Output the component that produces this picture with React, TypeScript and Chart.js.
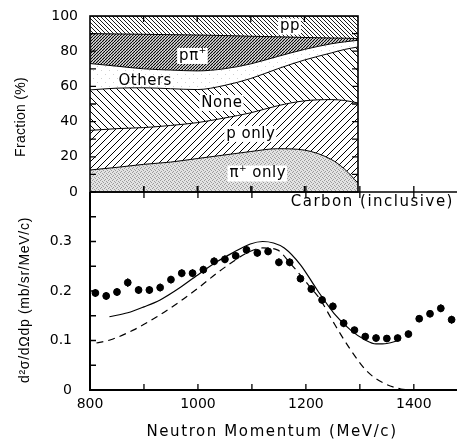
import React, { useEffect, useRef } from 'react';
import { Chart, registerables } from 'chart.js';
Chart.register(...registerables);

const FONT = '"DejaVu Sans", "Liberation Sans", sans-serif';
const VFONT = '"Liberation Sans", Arial, sans-serif';

// ---------- Top panel: fractions (%) vs neutron momentum ----------
const fracMomentum = [800, 850, 900, 950, 1000, 1050, 1100, 1150, 1200, 1250, 1275, 1300];
const piOnlyFrac = [12.5, 14, 15.7, 17, 19, 21, 23, 24.6, 23.8, 18.5, 13, 5];
const pOnlyFrac = [22.5, 22, 20.9, 20.8, 20.4, 21, 22, 24.4, 28, 34, 39, 45.6];
const noneFrac = [23, 23, 22.6, 20.9, 18.8, 18.5, 19.5, 21, 23.2, 26.5, 29, 31.8];
const othersFrac = [15, 12.5, 10.8, 10.6, 10.6, 9.5, 8.3, 7, 6, 5.2, 4.3, 3.8];
const pPiFrac = [17, 18.3, 19.6, 20.1, 20.4, 18.9, 15.7, 11.2, 6.8, 3.3, 2.1, 1.0];
const ppFrac = [10, 10.2, 10.4, 10.6, 10.8, 11.1, 11.5, 11.8, 12.2, 12.5, 12.6, 12.8];
const fracTicks = [0, 20, 40, 60, 80, 100];

// ---------- Bottom panel: cross section ----------
const dataMomentum = [810, 830, 850, 870, 890, 910, 930, 950, 970, 990, 1010, 1030, 1050, 1070, 1090, 1110, 1130, 1150,
  1170, 1190, 1210, 1230, 1250, 1270, 1290, 1310, 1330, 1350, 1370, 1390, 1410, 1430, 1450, 1470];
const dataXs = [0.196, 0.190, 0.198, 0.217, 0.202, 0.202, 0.207, 0.223, 0.236, 0.236, 0.243, 0.260, 0.264, 0.271, 0.283,
  0.277, 0.280, 0.258, 0.258, 0.225, 0.204, 0.182, 0.169, 0.135, 0.121, 0.108, 0.105, 0.104, 0.105, 0.113, 0.144, 0.154,
  0.165, 0.142];
const dataErr = [0.008, 0.008, 0.008, 0.009, 0.008, 0.008, 0.008, 0.008, 0.008, 0.008, 0.008, 0.008, 0.008, 0.008, 0.008,
  0.008, 0.008, 0.008, 0.008, 0.008, 0.008, 0.008, 0.008, 0.008, 0.007, 0.007, 0.007, 0.007, 0.007, 0.007, 0.007, 0.007,
  0.008, 0.008];
const solidMomentum = [836, 870, 900, 930, 967, 1004, 1035, 1066, 1097, 1120, 1140, 1160, 1190, 1221, 1252, 1283, 1310, 1330, 1350, 1375];
const solidXs = [0.148, 0.156, 0.168, 0.182, 0.207, 0.236, 0.259, 0.278, 0.295, 0.300, 0.297, 0.287, 0.253, 0.202, 0.155, 0.121, 0.101, 0.093, 0.094, 0.101];
const dashedMomentum = [812, 837, 880, 924, 967, 1004, 1035, 1066, 1091, 1120, 1147, 1171, 1202, 1227, 1252, 1283, 1314, 1345, 1376, 1395];
const dashedXs = [0.095, 0.101, 0.121, 0.148, 0.179, 0.209, 0.236, 0.260, 0.277, 0.287, 0.283, 0.256, 0.216, 0.182, 0.135, 0.081, 0.037, 0.0135, 0.002, 0];

type Seg = { t: string; sup?: boolean };
const regionLabels: { segs: Seg[]; x: number; y: number; box: boolean }[] = [
  { segs: [{ t: 'pp' }], x: 1173, y: 94, box: true },
  { segs: [{ t: 'pπ' }, { t: '+', sup: true }], x: 992, y: 77.3, box: true },
  { segs: [{ t: 'Others' }], x: 903, y: 62.8, box: false },
  { segs: [{ t: 'None' }], x: 1046, y: 50.6, box: true },
  { segs: [{ t: 'p only' }], x: 1100, y: 33, box: true },
  { segs: [{ t: 'π' }, { t: '+', sup: true }, { t: ' only' }], x: 1113, y: 10.5, box: true },
];

const zip = (xs: number[], ys: number[]) => xs.map((x, i) => ({ x, y: ys[i] }));

function hatch(size: number, dir: string, lw: number, bg: string): CanvasPattern {
  const c = document.createElement('canvas');
  c.width = size; c.height = size;
  const g = c.getContext('2d')!;
  g.fillStyle = bg; g.fillRect(0, 0, size, size);
  g.strokeStyle = '#000'; g.lineWidth = lw;
  g.beginPath();
  for (let k = -1; k <= 1; k++) {
    if (dir === '/') { g.moveTo(k * size, size); g.lineTo((k + 1) * size, 0); }
    else { g.moveTo(k * size, 0); g.lineTo((k + 1) * size, size); }
  }
  g.stroke();
  return g.createPattern(c, 'repeat')!;
}

function stipple(size: number, bg: string, dot: string, pts: number[][]): CanvasPattern {
  const c = document.createElement('canvas');
  c.width = size; c.height = size;
  const g = c.getContext('2d')!;
  g.fillStyle = bg; g.fillRect(0, 0, size, size);
  g.fillStyle = dot;
  pts.forEach(([a, b]) => g.fillRect(a, b, 1, 1));
  return g.createPattern(c, 'repeat')!;
}

function drawSpaced(ctx: CanvasRenderingContext2D, text: string, x: number, y: number, font: string, spacing: number, align: CanvasTextAlign, rot = 0) {
  ctx.save();
  ctx.translate(x, y);
  if (rot) ctx.rotate(rot);
  ctx.font = font;
  (ctx as any).letterSpacing = spacing + 'px';
  ctx.fillStyle = '#000';
  ctx.textAlign = align;
  ctx.textBaseline = 'middle';
  ctx.fillText(text, 0, 0);
  ctx.restore();
}

const noPadV = (s: any) => { s.paddingTop = 0; s.paddingBottom = 0; };
const noPadH = (s: any) => { s.paddingLeft = 0; s.paddingRight = 0; };

const topDecor = {
  id: 'topDecor',
  afterDatasetsDraw(chart: any) {
    const { ctx, chartArea: a, scales: { x, y } } = chart;
    const size = 15;
    regionLabels.forEach((lab) => {
      ctx.save();
      (ctx as any).letterSpacing = '0.5px';
      const widths = lab.segs.map((s) => {
        ctx.font = `${s.sup ? 9 : size}px ${FONT}`;
        return ctx.measureText(s.t).width;
      });
      const total = widths.reduce((p, c) => p + c, 0);
      const cx = x.getPixelForValue(lab.x);
      const cy = y.getPixelForValue(lab.y);
      if (lab.box) {
        ctx.fillStyle = '#fff';
        ctx.fillRect(cx - total / 2 - 2, cy - 8, total + 3, 16);
      }
      let px = cx - total / 2;
      ctx.fillStyle = '#000';
      ctx.textBaseline = 'middle';
      ctx.textAlign = 'left';
      lab.segs.forEach((s, i) => {
        ctx.font = `${s.sup ? 9 : size}px ${FONT}`;
        ctx.fillText(s.t, px, s.sup ? cy - 5 : cy);
        px += widths[i];
      });
      ctx.restore();
    });
    ctx.save();
    ctx.strokeStyle = '#000';
    ctx.lineWidth = 1.6;
    ctx.strokeRect(a.left, a.top, a.right - a.left, a.bottom - a.top);
    ctx.lineWidth = 1.3;
    ctx.beginPath();
    for (let v = 900; v < 1300; v += 100) {
      const p = x.getPixelForValue(v);
      ctx.moveTo(p, a.bottom); ctx.lineTo(p, a.bottom - 6);
      ctx.moveTo(p, a.top); ctx.lineTo(p, a.top + 6);
    }
    for (let v = 10; v < 100; v += 10) {
      const p = y.getPixelForValue(v);
      ctx.moveTo(a.left, p); ctx.lineTo(a.left + 6, p);
      ctx.moveTo(a.right, p); ctx.lineTo(a.right - 6, p);
    }
    ctx.stroke();
    ctx.restore();
    drawSpaced(ctx, 'Fraction (%)', 21, 117, `14px ${VFONT}`, 0.3, 'center', -Math.PI / 2);
  },
};

const botDecor = {
  id: 'botDecor',
  afterDatasetsDraw(chart: any) {
    const { ctx, chartArea: a, scales: { x, y } } = chart;
    ctx.save();
    ctx.strokeStyle = '#000';
    ctx.lineWidth = 1.2;
    ctx.beginPath();
    dataMomentum.forEach((m, i) => {
      const px = x.getPixelForValue(m);
      ctx.moveTo(px, y.getPixelForValue(dataXs[i] - dataErr[i]));
      ctx.lineTo(px, y.getPixelForValue(dataXs[i] + dataErr[i]));
    });
    ctx.stroke();
    ctx.lineWidth = 2;
    ctx.beginPath();
    ctx.moveTo(a.left, a.top); ctx.lineTo(a.left, a.bottom); ctx.lineTo(a.right, a.bottom);
    ctx.stroke();
    ctx.lineWidth = 1.5;
    ctx.beginPath();
    ctx.moveTo(a.left, a.top); ctx.lineTo(a.right, a.top);
    ctx.stroke();
    ctx.lineWidth = 1.3;
    ctx.beginPath();
    for (let v = 0.05; v < 0.4; v += 0.05) {
      const p = y.getPixelForValue(v);
      ctx.moveTo(a.left, p); ctx.lineTo(a.left + 6, p);
    }
    for (let v = 900; v <= 1400; v += 100) {
      const p = x.getPixelForValue(v);
      ctx.moveTo(p, a.bottom); ctx.lineTo(p, a.bottom - 6);
      ctx.moveTo(p, a.top - 6); ctx.lineTo(p, a.top + 6);
    }
    ctx.stroke();
    ctx.restore();
    drawSpaced(ctx, 'Carbon (inclusive)', x.getPixelForValue(1172), y.getPixelForValue(0.379), `15px ${FONT}`, 1.5, 'left');
    drawSpaced(ctx, 'Neutron Momentum (MeV/c)', 272, 252, `15px ${FONT}`, 1.6, 'center');
    drawSpaced(ctx, 'd²σ/dΩdp (mb/sr/MeV/c)', 25, 120, `14px ${VFONT}`, 0.7, 'center', -Math.PI / 2);
  },
};

export default function App() {
  const topRef = useRef<HTMLCanvasElement>(null);
  const botRef = useRef<HTMLCanvasElement>(null);
  useEffect(() => {
    const fills = [
      stipple(4, '#e3e3e3', '#9c9c9c', [[0, 0], [2, 1], [1, 3], [3, 2]]),
      hatch(7, '/', 1, '#fff'),
      hatch(7, '\\', 1, '#fff'),
      stipple(8, '#fff', '#cfcfcf', [[1, 2], [5, 6]]),
      hatch(3, '/', 1.2, '#fff'),
      hatch(4, '\\', 0.9, '#fff'),
    ];
    const fracSets = [piOnlyFrac, pOnlyFrac, noneFrac, othersFrac, pPiFrac, ppFrac];
    const names = ['π+ only', 'p only', 'None', 'Others', 'pπ+', 'pp'];
    const top = new Chart(topRef.current!, {
      type: 'line',
      data: {
        datasets: fracSets.map((arr, i) => ({
          label: names[i],
          data: zip(fracMomentum, arr),
          fill: i === 0 ? 'origin' : '-1',
          backgroundColor: fills[i] as any,
          borderColor: '#000',
          borderWidth: 1,
          pointRadius: 0,
          cubicInterpolationMode: 'monotone' as const,
        })),
      },
      options: {
        responsive: false,
        animation: false,
        devicePixelRatio: 1,
        layout: { autoPadding: false, padding: { top: 16, right: 99, bottom: 8, left: 0 } },
        plugins: { legend: { display: false }, tooltip: { enabled: false } },
        scales: {
          x: { type: 'linear', min: 800, max: 1300, display: false },
          y: {
            stacked: true, min: 0, max: 100,
            afterBuildTicks: (s: any) => { s.ticks = fracTicks.map((v) => ({ value: v })); },
            ticks: { color: '#000', font: { family: FONT, size: 14 }, padding: 12 },
            grid: { display: false, drawTicks: false },
            border: { display: false },
            afterFit: (s: any) => { s.width = 90; noPadV(s); },
          },
        },
      } as any,
      plugins: [topDecor],
    });
    const bot = new Chart(botRef.current!, {
      type: 'scatter',
      data: {
        datasets: [
          { label: 'data', data: zip(dataMomentum, dataXs), pointRadius: 3.4, pointBackgroundColor: '#000', pointBorderColor: '#000', showLine: false },
          { label: 'solid', data: zip(solidMomentum, solidXs), showLine: true, pointRadius: 0, borderColor: '#000', borderWidth: 1.2, cubicInterpolationMode: 'monotone' },
          { label: 'dashed', data: zip(dashedMomentum, dashedXs), showLine: true, pointRadius: 0, borderColor: '#000', borderWidth: 1.2, borderDash: [7, 5], cubicInterpolationMode: 'monotone' },
        ],
      },
      options: {
        responsive: false,
        animation: false,
        devicePixelRatio: 1,
        layout: { autoPadding: false, padding: { top: 12, right: 0, bottom: 0, left: 0 } },
        plugins: { legend: { display: false }, tooltip: { enabled: false } },
        scales: {
          x: {
            type: 'linear', min: 800, max: 1480,
            ticks: { stepSize: 200, includeBounds: false, color: '#000', font: { family: FONT, size: 14 }, padding: 6, maxRotation: 0, autoSkip: false, callback: (v: any) => String(v) },
            grid: { display: false, drawTicks: false },
            border: { display: false },
            afterFit: (s: any) => { s.height = 49; noPadH(s); },
          },
          y: {
            min: 0, max: 0.4,
            ticks: { stepSize: 0.1, color: '#000', font: { family: FONT, size: 14 }, padding: 18, callback: (v: any) => (v > 0.35 ? '' : v === 0 ? '0' : Number(v).toFixed(1)) },
            grid: { display: false, drawTicks: false },
            border: { display: false },
            afterFit: (s: any) => { s.width = 90; noPadV(s); },
          },
        },
      } as any,
      plugins: [botDecor],
    });
    return () => { top.destroy(); bot.destroy(); };
  }, []);
  return (
    <div style={{ position: 'absolute', left: 0, top: 0, width: 457, height: 439, background: '#fff', overflow: 'hidden' }}>
      <canvas ref={topRef} width={457} height={200} style={{ position: 'absolute', left: 0, top: 0, width: 457, height: 200 }} />
      <canvas ref={botRef} width={457} height={259} style={{ position: 'absolute', left: 0, top: 180, width: 457, height: 259 }} />
    </div>
  );
}
